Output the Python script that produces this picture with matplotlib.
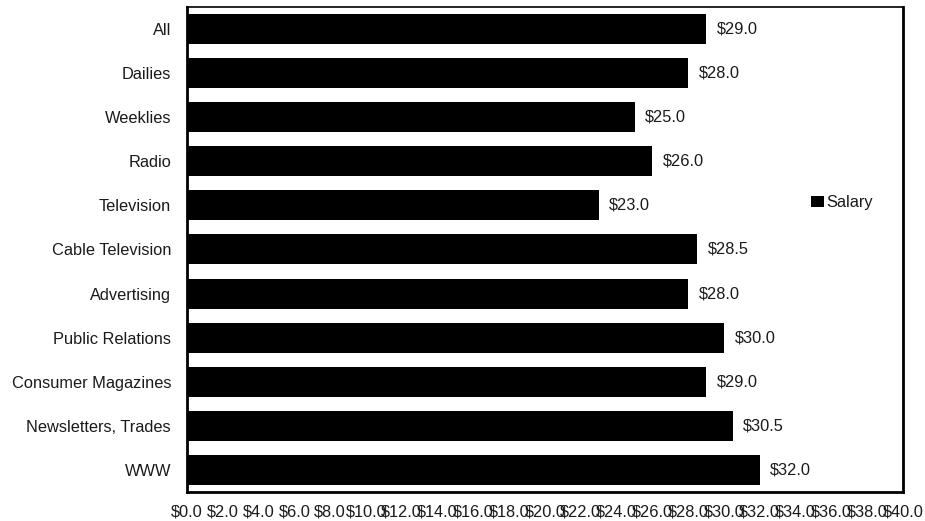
import matplotlib
matplotlib.use("Agg")
import matplotlib.pyplot as plt
from matplotlib.patches import Patch

categories = ["All", "Dailies", "Weeklies", "Radio", "Television", "Cable Television",
              "Advertising", "Public Relations", "Consumer Magazines",
              "Newsletters, Trades", "WWW"]
salary = [29.0, 28.0, 25.0, 26.0, 23.0, 28.5, 28.0, 30.0, 29.0, 30.5, 32.0]
x_ticks = [i * 2 for i in range(21)]
x_tick_labels = [f"${v:.1f}" for v in x_ticks]

plt.rcParams["font.family"] = ["Liberation Sans", "DejaVu Sans"]
text_color = "#1a1a1a"
fs = 11.8

fig = plt.figure(figsize=(9.25, 5.21), dpi=100)
ax = fig.add_axes([0.2022, 0.0557, 0.7740, 0.9309])

ypos = list(range(len(categories)))
ax.barh(ypos, salary, height=0.68, color="black", label="Salary")

for y, v in zip(ypos, salary):
    ax.annotate(f"${v:.1f}", xy=(v, y), xytext=(7.5, 0), textcoords="offset points",
                va="center", ha="left", fontsize=fs, color=text_color)

ax.set_xlim(0, 40)
ax.set_ylim(len(categories) - 0.5, -0.5)
ax.set_yticks(ypos)
ax.set_yticklabels(categories, fontsize=fs, color=text_color)
ax.set_xticks(x_ticks)
ax.set_xticklabels(x_tick_labels, fontsize=fs, color=text_color)
ax.tick_params(axis="y", length=0, pad=11.5)
ax.tick_params(axis="x", length=0, pad=9)

for side in ["left", "bottom", "right"]:
    ax.spines[side].set_linewidth(2)
ax.spines["top"].set_linewidth(1.2)

ax.legend(handles=[Patch(facecolor="black", label="Salary")],
          loc="center left", bbox_to_anchor=(0.872, 0.596), frameon=False,
          handlelength=0.8, handleheight=0.6, handletextpad=0.1,
          borderpad=0, borderaxespad=0, fontsize=fs, labelcolor=text_color)

fig.savefig("out.png", dpi=100)
